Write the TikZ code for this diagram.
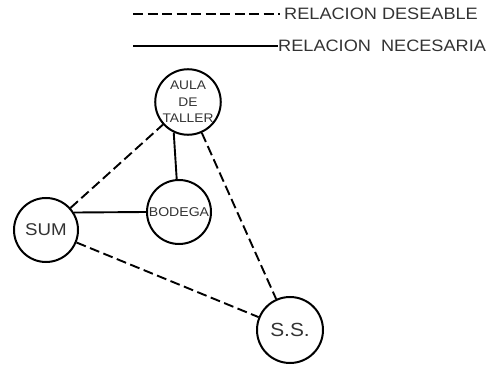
\documentclass[tikz,border=0pt]{standalone}
\usepackage{fontspec}
\setmainfont[FakeStretch=1.1]{Liberation Sans}
\usetikzlibrary{positioning}

\begin{document}
\begin{tikzpicture}[
  x=1pt, y=-1pt,
  room/.style={draw=black, line width=2pt, circle, minimum size=63pt,
               inner sep=0pt, align=center, text=black!80},
  need/.style={draw=black, line width=1.9pt},
  wish/.style={draw=black, line width=1.9pt, dash pattern=on 10pt off 4.5pt},
  key/.style={anchor=west, inner ysep=0pt, text=black!80,
              font=\fontsize{16.5}{16}\selectfont}
]
\useasboundingbox (0,0) rectangle (493,366);

% legend
\coordinate (dfrom) at (133,14);
\coordinate (nfrom) at (133,46);
\node[key, inner xsep=4pt] (deseable) at (280,14) {RELACION DESEABLE};
\node[key, inner xsep=0pt] (necesaria) at (278,46) {RELACION\ \ NECESARIA};
\draw[wish] (dfrom) -- (deseable.west);
\draw[need] (nfrom) -- (necesaria.west);

% rooms
\node[room, minimum size=62pt, font=\fontsize{12.5}{16.5}\selectfont] (aula) at (188,102) {AULA\\DE\\TALLER};
\node[room, minimum size=64pt, font=\fontsize{12.8}{14}\selectfont] (bodega) at (179,212) {BODEGA};
\node[room, minimum size=64pt, font=\fontsize{17}{17}\selectfont] (sum) at (46,230) {SUM};
\node[room, minimum size=66pt, font=\fontsize{19}{19}\selectfont] (ss) at (290,330) {S.S.};

% relations
\draw[need] (aula.245) -- (bodega.94);
\draw[need] (sum.32) -- (bodega.180);
\draw[wish] (sum) -- (aula);
\draw[wish] (sum) -- (ss);
\draw[wish] (aula) -- (ss);
\end{tikzpicture}
\end{document}
